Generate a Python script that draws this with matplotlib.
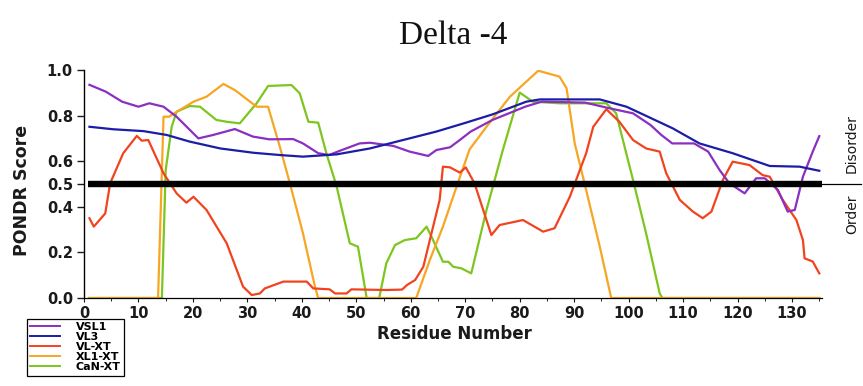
import matplotlib
matplotlib.use("Agg")
import matplotlib.pyplot as plt
from matplotlib.ticker import MultipleLocator, FormatStrFormatter

# ---------------- data ----------------
vsl1_x = [1, 4, 7, 10, 12, 14.6, 17, 21, 23.7, 27.7, 31, 34, 38.4, 40.2, 43, 45, 47, 50.6,
          52.5, 56.8, 59.8, 63.2, 64.7, 67.2, 69, 71, 75, 81, 84, 92, 96.5, 100.8, 104, 106,
          108, 112, 114.6, 116.7, 118.5, 121.3, 123.4, 125, 127.4, 129.2, 130.5, 132, 133.8, 135]
vsl1_y = [0.935, 0.905, 0.861, 0.839, 0.854, 0.839, 0.795, 0.70, 0.715, 0.741, 0.708, 0.696,
          0.697, 0.678, 0.635, 0.627, 0.646, 0.678, 0.681, 0.667, 0.642, 0.623, 0.649, 0.661,
          0.693, 0.73, 0.781, 0.839, 0.861, 0.857, 0.832, 0.81, 0.759, 0.715, 0.678, 0.678,
          0.642, 0.561, 0.503, 0.459, 0.525, 0.525, 0.474, 0.379, 0.386, 0.532, 0.642, 0.71]

vl3_x = [1, 5.4, 10.9, 15.2, 19.4, 25, 31.1, 36, 40.2, 46.4, 52.5, 58.6, 64.7, 70, 75.1,
         81.2, 83.7, 94.7, 99.6, 104, 108.1, 113, 119.1, 125.9, 131.4, 135]
vl3_y = [0.751, 0.74, 0.732, 0.715, 0.686, 0.656, 0.637, 0.627, 0.62, 0.63, 0.656, 0.693,
         0.73, 0.768, 0.806, 0.861, 0.871, 0.871, 0.839, 0.79, 0.744, 0.678, 0.635, 0.579,
         0.576, 0.558]

vlxt_x = [1, 1.8, 3.9, 4.8, 7.2, 9.7, 10.6, 11.8, 14.6, 17, 18.8, 20.1, 22.5, 26.2, 29.2,
          30.8, 32.3, 33.2, 36.6, 40.9, 42.1, 45.1, 46.1, 48.2, 49.1, 55.5, 58.4, 59.3, 60.8,
          62.3, 63.8, 65.3, 65.9, 67.2, 69, 70.1, 71.7, 74.8, 76.3, 80.6, 84.3, 86.4, 89.2,
          92.2, 93.5, 95.9, 98.3, 100.8, 103.2, 105.7, 106.9, 109.4, 111.8, 113.6, 115.2,
          117.3, 119.1, 122.2, 124.6, 125.9, 128.3, 130.8, 132, 132.3, 133.8, 135]
vlxt_y = [0.35, 0.313, 0.371, 0.503, 0.635, 0.711, 0.69, 0.693, 0.547, 0.459, 0.418, 0.444,
          0.386, 0.24, 0.05, 0.013, 0.02, 0.042, 0.072, 0.072, 0.042, 0.038, 0.02, 0.02, 0.038,
          0.035, 0.037, 0.057, 0.079, 0.137, 0.284, 0.43, 0.576, 0.573, 0.55, 0.573, 0.503,
          0.276, 0.32, 0.342, 0.291, 0.306, 0.444, 0.635, 0.751, 0.828, 0.773, 0.693, 0.656,
          0.642, 0.547, 0.43, 0.379, 0.35, 0.379, 0.518, 0.598, 0.583, 0.539, 0.532, 0.43,
          0.342, 0.254, 0.174, 0.16, 0.108]

xl1xt_x = [1, 13.6, 14.6, 15.6, 17.6, 20.1, 22.5, 25.6, 27.7, 31.7, 33.8, 36, 37.8, 40.2,
           42.4, 43, 61, 63.5, 65.9, 68.4, 70.8, 73.9, 78.2, 83.4, 87.3, 88.6, 90.1, 91.9,
           94.7, 96.8, 135]
xl1xt_y = [0, 0, 0.795, 0.795, 0.825, 0.861, 0.883, 0.939, 0.912, 0.839, 0.839, 0.66, 0.503,
           0.284, 0.05, 0, 0, 0.167, 0.313, 0.488, 0.652, 0.751, 0.883, 0.997, 0.971, 0.92,
           0.678, 0.503, 0.225, 0, 0]

canxt_x = [1, 14.3, 15, 16.1, 17, 19.4, 21.3, 24.3, 26.2, 28.6, 31.7, 33.8, 38.1, 39.6, 41.2,
           43, 44.5, 46.4, 48.8, 50.3, 51.9, 54.2, 55.5, 57.1, 58.9, 61, 62.9, 63.8, 65.9,
           66.9, 67.8, 69.3, 71.1, 73.9, 76.9, 80, 82.4, 87.3, 95.9, 97.7, 100.8, 103.2, 105.7,
           106.2, 135]
canxt_y = [0, 0, 0.561, 0.751, 0.817, 0.842, 0.839, 0.781, 0.773, 0.766, 0.854, 0.93, 0.934,
           0.898, 0.773, 0.769, 0.635, 0.488, 0.24, 0.225, 0, 0, 0.152, 0.232, 0.254, 0.262,
           0.313, 0.269, 0.159, 0.159, 0.137, 0.13, 0.108, 0.386, 0.649, 0.901, 0.861, 0.854,
           0.854, 0.81, 0.518, 0.284, 0.02, 0, 0]

threshold = 0.5
x_ticks = [0, 10, 20, 30, 40, 50, 60, 70, 80, 90, 100, 110, 120, 130]
y_ticks = [0.0, 0.2, 0.4, 0.5, 0.6, 0.8, 1.0]

c_vsl1 = "#8a2fc0"
c_vl3 = "#1c1ca6"
c_vlxt = "#f2431f"
c_xl1 = "#f6a623"
c_can = "#7cc61e"

# ---------------- figure ----------------
plt.rcParams['font.family'] = ['DejaVu Sans']
fig = plt.figure(figsize=(8.63, 3.86), dpi=100)
W, H = 863, 386
ax = fig.add_axes([84 / W, 1 - 298 / H, (822 - 84) / W, (298 - 70) / H])

lw = 1.6
l_can, = ax.plot(canxt_x, canxt_y, color=c_can, lw=lw, label="CaN-XT")
l_xl1, = ax.plot(xl1xt_x, xl1xt_y, color=c_xl1, lw=lw, label="XL1-XT")
l_vlxt, = ax.plot(vlxt_x, vlxt_y, color=c_vlxt, lw=lw, label="VL-XT")
l_vsl1, = ax.plot(vsl1_x, vsl1_y, color=c_vsl1, lw=lw, label="VSL1")
l_vl3, = ax.plot(vl3_x, vl3_y, color=c_vl3, lw=lw, label="VL3")

# threshold
ax.hlines(threshold, 0.8, 135.5, color="black", lw=4.6, zorder=5)
ax.plot([1.0, 1.053], [threshold, threshold], transform=ax.get_yaxis_transform(),
        color="black", lw=0.9, clip_on=False)

ax.set_xlim(0, 135.5)
ax.set_ylim(0, 1.0)
ax.set_xticks(x_ticks)
ax.xaxis.set_minor_locator(MultipleLocator(5))
ax.set_yticks(y_ticks)
ax.yaxis.set_major_formatter(FormatStrFormatter('%.1f'))

for s in ("top", "right"):
    ax.spines[s].set_visible(False)
ax.spines["left"].set_linewidth(1.0)
ax.spines["bottom"].set_linewidth(0.9)

ax.tick_params(axis="y", direction="out", length=5, width=1, pad=3,
               labelsize=10.5, colors="#1a1a1a")
ax.tick_params(axis="x", which="major", direction="out", length=3, width=0.8, pad=3,
               labelsize=10.5, colors="#1a1a1a")
ax.tick_params(axis="x", which="minor", direction="out", length=2, width=0.6)
for lab in ax.get_xticklabels() + ax.get_yticklabels():
    lab.set_fontweight("bold")

ax.set_xlabel("Residue Number", fontsize=12, fontweight="bold", color="#1a1a1a")
ax.xaxis.set_label_coords((454 - 84) / 738, (298 - 325) / 228)
ax.set_ylabel("PONDR Score", fontsize=12.5, fontweight="bold", color="#1a1a1a")
ax.yaxis.set_label_coords((31 - 84) / 738, (298 - 190) / 228)

ax.set_title("Delta -4", family=["Liberation Serif", "DejaVu Serif"], fontsize=24,
             pad=19, color="#111111")

fig.text(852 / W, 1 - 144 / H, "Disorder", rotation=90, ha="center", va="center",
         fontsize=10, color="#1a1a1a")
fig.text(852 / W, 1 - 214 / H, "Order", rotation=90, ha="center", va="center",
         fontsize=10, color="#1a1a1a")

leg = fig.legend(handles=[l_vsl1, l_vl3, l_vlxt, l_xl1, l_can],
                 loc="upper left", bbox_to_anchor=(27 / W, 1 - 319 / H),
                 prop={"weight": "bold", "size": 8},
                 frameon=True, fancybox=False, edgecolor="black", framealpha=1,
                 handlelength=2.7, handletextpad=1.4, labelspacing=0.0,
                 borderpad=0.3, borderaxespad=0)
leg.get_frame().set_linewidth(0.9)
for h in leg.get_lines():
    h.set_linewidth(1.4)

fig.savefig("out.png", dpi=100)
